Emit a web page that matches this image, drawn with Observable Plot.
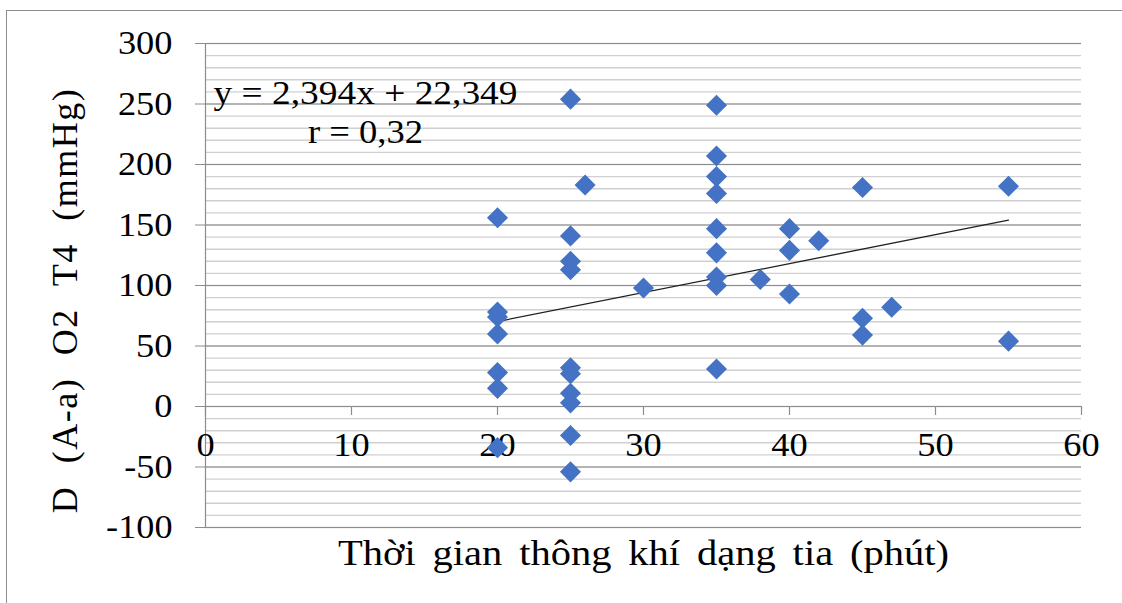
<!DOCTYPE html>
<html>
<head>
<meta charset="utf-8">
<script src="https://cdn.jsdelivr.net/npm/d3@7"></script>
<script src="https://cdn.jsdelivr.net/npm/@observablehq/plot@0.6"></script>
<style>
  html, body { margin: 0; padding: 0; background: #fff; }
  #wrap { position: relative; width: 1122px; height: 603px; overflow: hidden; background: #fff; }
  #border { position: absolute; left: 6px; top: 10px; width: 1300px; height: 800px; border: 1.5px solid #8c8c8c; box-sizing: border-box; }
  #chart { position: absolute; left: 0; top: 0; }
  #chart svg, #chart svg text { font-family: "Liberation Serif", "Times New Roman", serif; }
</style>
</head>
<body>
<div id="wrap"><div id="border"></div><div id="chart"></div></div>
<script>
// ---- data ----
const minutes  = [20, 20, 20, 20, 20, 20, 20,
                  25, 25, 25, 25, 25, 25, 25, 25, 25, 25,
                  26, 30,
                  35, 35, 35, 35, 35, 35, 35, 35, 35,
                  38, 40, 40, 40, 42, 45, 45, 45, 47, 55, 55];
const gradient = [156, 78, 74, 60, 28, 15, -34,
                  254, 141, 120, 113, 32, 27, 11, 3, -24, -54,
                  183, 98,
                  249, 207, 190, 176, 147, 127, 107, 100, 31,
                  105, 147, 129, 93, 137, 181, 73, 59, 82, 182, 54];
const xTicks = [0, 10, 20, 30, 40, 50, 60];
const yTicks = [-100, -50, 0, 50, 100, 150, 200, 250, 300];
const yMinorTicks = [-100, -90, -80, -70, -60, -50, -40, -30, -20, -10, 0, 10, 20, 30, 40, 50, 60, 70, 80, 90,
                     100, 110, 120, 130, 140, 150, 160, 170, 180, 190, 200, 210, 220, 230, 240, 250, 260, 270, 280, 290, 300];
const slope = 2.394;
const intercept = 22.349;
const equationText = "y = 2,394x + 22,349";
const rText = "r = 0,32";
const xTitle = "Thời gian thông khí dạng tia (phút)";
const yTitle = "D (A-a) O2 T4 (mmHg)";

// ---- build ----
const points = minutes.map((m, i) => ({m, v: gradient[i]}));
const xMin = d3.min(minutes), xMax = d3.max(minutes);
const trend = [xMin, xMax].map(x => ({m: x, v: slope * x + intercept}));

const font = "Liberation Serif";
const plain = d => String(d);
const chart = Plot.plot({
  width: 1122,
  height: 603,
  marginLeft: 205,
  marginRight: 41,
  marginTop: 43,
  marginBottom: 76,
  x: {domain: [0, 60]},
  y: {domain: [-100, 300]},
  style: {fontFamily: font, background: "transparent", color: "#000"},
  marks: [
    Plot.ruleY(yMinorTicks, {stroke: "#d0d0d0", strokeWidth: 1.4}),
    Plot.ruleY(yTicks, {stroke: "#8c8c8c", strokeWidth: 1.2, insetLeft: -10}),
    Plot.ruleX([0], {stroke: "#8c8c8c", strokeWidth: 1.2}),
    Plot.axisY(yTicks, {anchor: "left", tickSize: 0, tickPadding: 33, fontSize: 34, label: null, tickFormat: plain, fontFamily: font}),
    Plot.axisX(xTicks, {anchor: "bottom", tickSize: 9, tickPadding: 16, dy: -121, stroke: "#8c8c8c", strokeWidth: 1.2, fontSize: 34, label: null, tickFormat: plain, fontFamily: font}),
    Plot.line(trend, {x: "m", y: "v", stroke: "#1f1f1f", strokeWidth: 1.3}),
    Plot.dot(points, {x: "m", y: "v", symbol: "diamond2", r: 9.5, fill: "#4472C4", stroke: "none"}),
    Plot.text([equationText], {frameAnchor: "top-left", textAnchor: "middle", lineAnchor: "middle", dx: 160, dy: 50, fontSize: 34, fontFamily: font}),
    Plot.text([rText], {frameAnchor: "top-left", textAnchor: "middle", lineAnchor: "middle", dx: 160, dy: 89, fontSize: 34, fontFamily: font}),
    Plot.text([xTitle], {frameAnchor: "bottom", textAnchor: "middle", lineAnchor: "middle", dy: 26, fontSize: 36, fontFamily: font}),
    Plot.text([yTitle], {frameAnchor: "left", textAnchor: "middle", lineAnchor: "middle", rotate: -90, dx: -140, dy: 15, fontSize: 36, fontFamily: font})
  ]
});
// widen texts to the reference's (horizontally stretched, widely spaced) look
const widths = new Map([[xTitle, 611], [equationText, 304], [rText, 115]]);
d3.select(chart).selectAll("text").each(function() {
  const t = this.textContent;
  if (t === yTitle) {
    this.style.wordSpacing = "12px";
    this.style.letterSpacing = "1.5px";
  } else if (t === xTitle) {
    this.style.wordSpacing = "6px";
    this.setAttribute("textLength", widths.get(t));
    this.setAttribute("lengthAdjust", "spacingAndGlyphs");
  } else if (widths.has(t)) {
    this.setAttribute("textLength", widths.get(t));
    this.setAttribute("lengthAdjust", "spacingAndGlyphs");
  } else if (/^-?\d+$/.test(t)) {
    this.setAttribute("textLength", (t.length + (t[0] === "-" ? -0.35 : 0)) * 18.2);
    this.setAttribute("lengthAdjust", "spacingAndGlyphs");
  }
});
document.getElementById("chart").appendChild(chart);
</script>
</body>
</html>
